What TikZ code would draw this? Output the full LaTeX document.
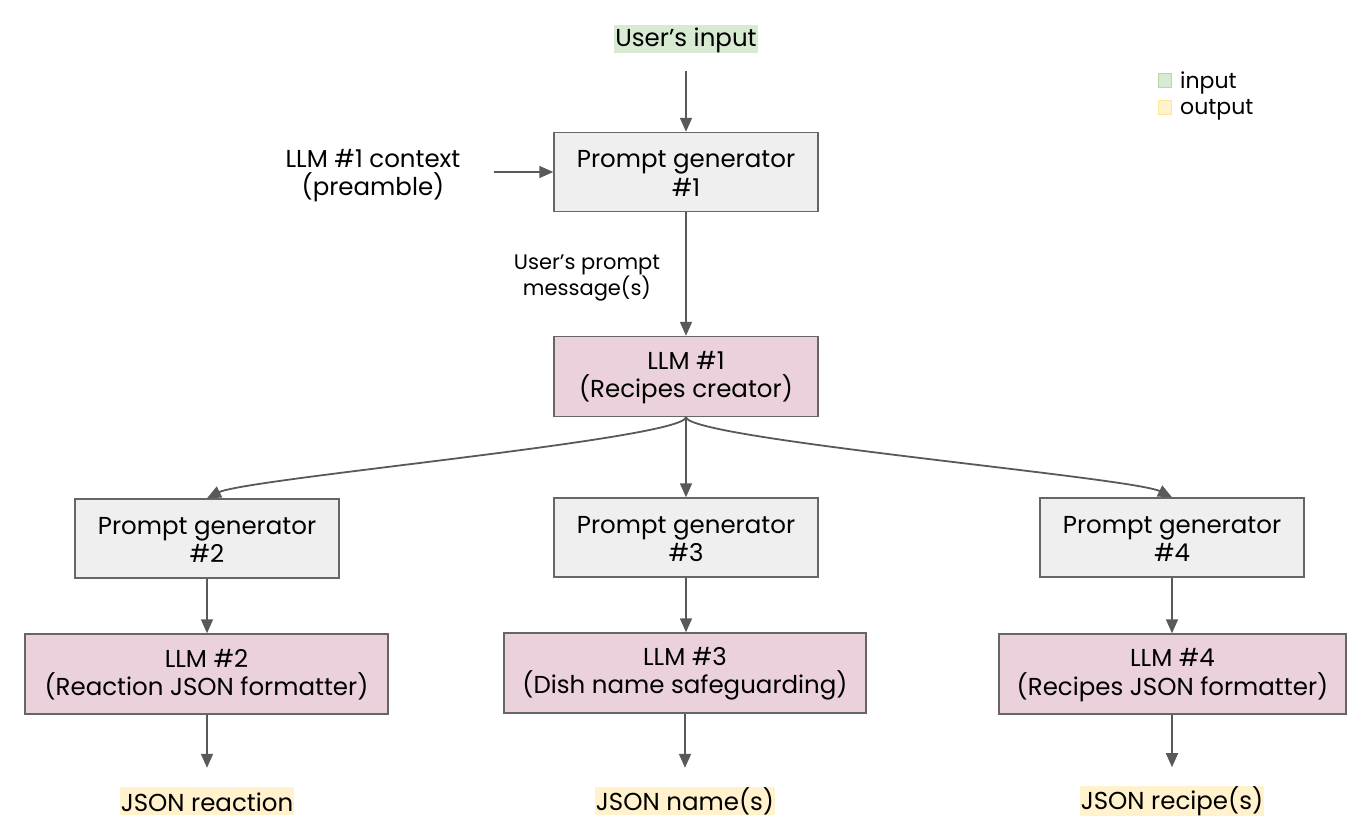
\documentclass[tikz,border=0pt]{standalone}
\usepackage{fontspec}
\setmainfont{Poppins}
\usetikzlibrary{arrows.meta}
\definecolor{linec}{HTML}{595959}
\definecolor{boxline}{HTML}{666666}
\definecolor{pgfill}{HTML}{EFEFEF}
\definecolor{llmfill}{HTML}{EAD1DC}
\definecolor{infill}{HTML}{D9EAD3}
\definecolor{inline}{HTML}{B6D7A8}
\definecolor{outfill}{HTML}{FFF2CC}
\definecolor{outline}{HTML}{FFE599}
\newcommand\tstrut{\rule{0pt}{20pt}}
\tikzset{
  every node/.style={font=\fontsize{24.5}{28.5}\selectfont, align=center},
  pgbox/.style={draw=boxline, line width=1.5pt, fill=pgfill, minimum width=264pt, minimum height=79pt, inner sep=0pt},
  llmbox/.style={draw=boxline, line width=1.5pt, fill=llmfill, minimum height=80pt, inner sep=0pt},
  inlabel/.style={fill=infill, inner xsep=1pt, inner ysep=0pt, minimum height=28pt, execute at begin node={\rule{0pt}{22pt}}},
  outlabel/.style={fill=outfill, inner xsep=1pt, inner ysep=0pt, minimum height=28pt, execute at begin node={\rule{0pt}{22pt}}},
  plainlabel/.style={inner sep=0pt},
  legtext/.style={inner sep=0pt, anchor=west, font=\fontsize{22}{24}\selectfont, execute at begin node={\rule{0pt}{20pt}}},
  legsq/.style={line width=1.5pt, minimum width=13pt, minimum height=14pt, inner sep=0pt},
  arr/.style={draw=linec, line width=1.8pt, -{Triangle[length=14pt,width=12pt]}},
}
\begin{document}
\begin{tikzpicture}[x=1pt,y=-1pt]
\useasboundingbox (0,0) rectangle (1371,838);
% nodes
\node[inlabel] (in) at (686,39) {User’s input};
\node[pgbox] (pg1) at (686,172) {\tstrut Prompt generator\\\#1};
\node[plainlabel] (ctx) at (373,172) {\rule{0pt}{25pt}LLM \#1 context\\(preamble)};
\node[plainlabel, font=\fontsize{21}{26}\selectfont] (msg) at (587,275) {\rule{0pt}{21pt}User’s prompt\\message(s)};
\node[llmbox, minimum width=264pt] (llm1) at (686,376.5) {\tstrut LLM \#1\\(Recipes creator)};
\node[pgbox] (pg2) at (207,538.5) {\tstrut Prompt generator\\\#2};
\node[pgbox] (pg3) at (686,537.5) {\tstrut Prompt generator\\\#3};
\node[pgbox] (pg4) at (1172,537.5) {\tstrut Prompt generator\\\#4};
\node[llmbox, minimum width=363pt] (llm2) at (206.5,674) {\tstrut LLM \#2\\(Reaction JSON formatter)};
\node[llmbox, minimum width=362pt] (llm3) at (685,673) {\tstrut LLM \#3\\(Dish name safeguarding)};
\node[llmbox, minimum width=347pt] (llm4) at (1172.5,674) {\tstrut LLM \#4\\(Recipes JSON formatter)};
\node[outlabel] (o2) at (207,801) {JSON reaction};
\node[outlabel] (o3) at (685,801) {JSON name(s)};
\node[outlabel] (o4) at (1172,801) {JSON recipe(s)};
% legend
\node[legsq, draw=inline, fill=infill] (lgi) at (1165,80.5) {};
\node[legsq, draw=outline, fill=outfill] (lgo) at (1165,107.5) {};
\node[legtext] (lgit) at (1180,81) {input};
\node[legtext] (lgot) at (1180,107) {output};
% connectors
\draw[arr, shorten <=18pt] (in.south) -- (pg1.north);
\draw[arr, shorten <=33pt] (ctx.east |- pg1.west) -- (pg1.west);
\draw[arr] (pg1.south) -- (llm1.north);
\draw[arr] (llm1.south) .. controls +(-4,22) and +(40,-20) .. (pg2.north);
\draw[arr] (llm1.south) -- (pg3.north);
\draw[arr] (llm1.south) .. controls +(4,22) and +(-40,-20) .. (pg4.north);
\draw[arr] (pg2.south) -- (llm2.north -| pg2.south);
\draw[arr] (pg3.south) -- (llm3.north -| pg3.south);
\draw[arr] (pg4.south) -- (llm4.north -| pg4.south);
\draw[arr, shorten >=19pt] (o2.north |- llm2.south) -- (o2.north);
\draw[arr, shorten >=19pt] (o3.north |- llm3.south) -- (o3.north);
\draw[arr, shorten >=19pt] (o4.north |- llm4.south) -- (o4.north);
\end{tikzpicture}
\end{document}
